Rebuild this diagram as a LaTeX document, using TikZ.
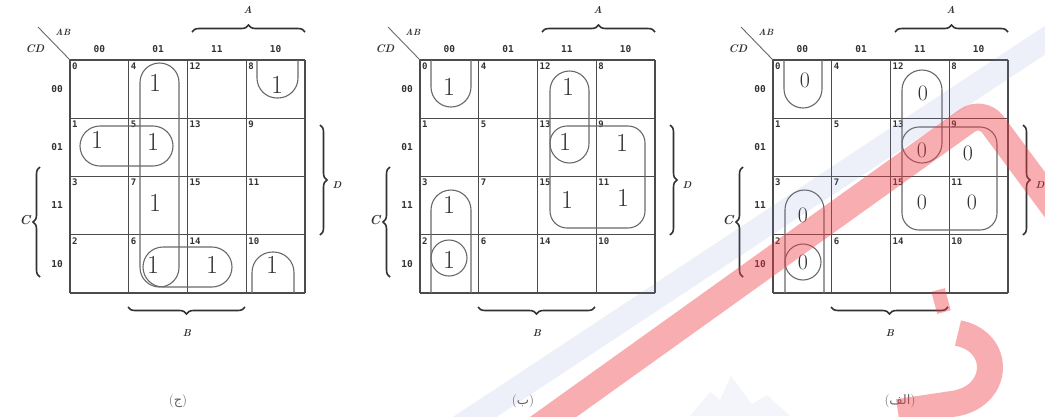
\documentclass[tikz,border=0pt]{standalone}
\usepackage{fontspec}
\newfontfamily\monofont{DejaVu Sans Mono}
\newfontfamily\arabicfont[Script=Arabic]{DejaVu Sans}
\TeXXeTstate=1
\usetikzlibrary{decorations.pathreplacing}
\definecolor{gridc}{RGB}{75,75,75}
\definecolor{loopc}{RGB}{105,105,105}
\definecolor{labc}{RGB}{50,50,50}
\definecolor{valc}{RGB}{50,50,50}
\definecolor{capc}{RGB}{100,100,100}
\definecolor{wmred}{RGB}{240,60,70}
\definecolor{wmblue}{RGB}{120,140,210}
\tikzset{
  gridline/.style={draw=gridc, line width=1.4pt},
  kloop/.style={draw=loopc, line width=1.1pt},
  lbl/.style={font=\monofont\bfseries\fontsize{9.5}{10}\selectfont, text=labc, inner sep=0pt},
  cellno/.style={font=\monofont\bfseries\fontsize{9}{9}\selectfont, text=labc, anchor=north west, inner sep=0pt},
  val/.style={font=\fontsize{26}{26}\selectfont, text=valc, inner sep=0pt},
  valz/.style={font=\fontsize{22}{22}\selectfont, text=valc, inner sep=0pt},
  brc/.style={decorate, decoration={brace, amplitude=7pt}, draw=labc, line width=1.6pt},
  var/.style={font=\bfseries\itshape\fontsize{10}{10}\selectfont, text=labc, inner sep=0pt},
  capt/.style={font=\fontsize{13}{13}\selectfont, text=capc, inner sep=0pt},
}
\newcommand\kmap[2]{%
\begin{scope}[shift={(#2,60)}]
  \foreach \i in {0,...,4}{
    \draw[gridline] (\i*58.75,0) -- (\i*58.75,233);
    \draw[gridline] (0,\i*58.25) -- (235,\i*58.25);
  }
  \foreach \c/\r/\n in {0/0/0,1/0/4,2/0/12,3/0/8,0/1/1,1/1/5,2/1/13,3/1/9,0/2/3,1/2/7,2/2/15,3/2/11,0/3/2,1/3/6,2/3/14,3/3/10}
    \node[cellno] (#1c\n) at (\c*58.75+2,\r*58.25+2.5) {\n};
  \foreach \c/\t [count=\k] in {0/00,1/01,2/11,3/10}{
    \node[lbl] (#1h\k) at (\c*58.75+29.4,-11) {\t};
    \node[lbl] (#1v\k) at (-13,\c*58.25+29) {\t};
  }
  \node[var, font=\bfseries\itshape\fontsize{9}{9}\selectfont] (#1ab) at (-7,-28) {AB};
  \node[var, font=\bfseries\itshape\fontsize{11}{11}\selectfont] (#1cd) at (-35,-11) {CD};
  \coordinate (#1o) at (0,0);
  \coordinate (#1d) at (-32,-33);
  \draw[draw=loopc, line width=0.9pt] (#1d) -- (#1o);
  \coordinate (#1a1) at (122,-28); \coordinate (#1a2) at (235,-28);
  \draw[brc] (#1a1) -- (#1a2);
  \node[var] (#1A) at (178,-50) {A};
  \coordinate (#1b1) at (175,247); \coordinate (#1b2) at (58,247);
  \draw[brc] (#1b1) -- (#1b2);
  \node[var] (#1B) at (117,273) {B};
  \coordinate (#1e1) at (-30,217); \coordinate (#1e2) at (-30,107);
  \draw[brc] (#1e1) -- (#1e2);
  \node[var, font=\bfseries\itshape\fontsize{13}{13}\selectfont] (#1C) at (-45,160) {C};
  \coordinate (#1f1) at (250,65); \coordinate (#1f2) at (250,175);
  \draw[brc] (#1f1) -- (#1f2);
  \node[var] (#1D) at (267,125) {D};
\end{scope}}
\begin{document}
\begin{tikzpicture}[x=1pt,y=-1pt]
\useasboundingbox (0,0) rectangle (1045,416);
\fill[white] (0,0) rectangle (1045,416);
% ---- map (ج)
\kmap{m1}{70}
\begin{scope}[shift={(70,60)}]
  \draw[kloop, rounded corners=19.5pt] (70,3) rectangle (109,227);
  \draw[kloop, rounded corners=20pt] (10,66) rectangle (103,106);
  \draw[kloop, rounded corners=20pt] (73,187) rectangle (162,227);
  \draw[kloop, rounded corners=20pt] (187,0) -- (187,38) -- (228,38) -- (228,0);
  \draw[kloop, rounded corners=20.5pt] (182,233) -- (182,192) -- (224,192) -- (224,233);
  \node[val] (m1g4) at (85,23) {1};
  \node[val] (m1g8) at (207,25) {1};
  \node[val] (m1g1) at (27,80) {1};
  \node[val] (m1g5) at (83,82) {1};
  \node[val] (m1g7) at (85,143) {1};
  \node[val] (m1g6) at (83,205) {1};
  \node[val] (m1g14) at (142,205) {1};
  \node[val] (m1g10) at (202,205) {1};
\end{scope}
\node[capt] (cap1) at (178,401) {({\arabicfont\beginR ج\endR})};
% ---- map (ب)
\kmap{m2}{420}
\begin{scope}[shift={(420,60)}]
  \draw[kloop, rounded corners=20pt] (11,0) -- (11,47) -- (51,47) -- (51,0);
  \draw[kloop, rounded corners=20pt] (11,233) -- (11,130) -- (51,130) -- (51,233);
  \draw[kloop] (29,198) circle[radius=18pt];
  \draw[kloop, rounded corners=19.5pt] (130,11) rectangle (169,103);
  \draw[kloop, rounded corners=17pt] (130,66) rectangle (225,168);
  \node[val] (m2g0) at (29,27) {1};
  \node[val] (m2g3) at (29,145) {1};
  \node[val] (m2g2) at (29,200) {1};
  \node[val] (m2g12) at (148,27) {1};
  \node[val] (m2g13) at (145,82) {1};
  \node[val] (m2g9) at (202,83) {1};
  \node[val] (m2g15) at (147,140) {1};
  \node[val] (m2g11) at (203,138) {1};
\end{scope}
\node[capt] (cap2) at (523,401) {({\arabicfont\beginR ب\endR})};
% ---- map (الف)
\kmap{m3}{773}
\begin{scope}[shift={(773,60)}]
  \draw[kloop, rounded corners=19pt] (11,0) -- (11,48) -- (49,48) -- (49,0);
  \draw[kloop, rounded corners=19.5pt] (12,233) -- (12,130) -- (51,130) -- (51,233);
  \draw[kloop] (30,202) circle[radius=18pt];
  \draw[kloop, rounded corners=20pt] (129,10) rectangle (169,103);
  \draw[kloop, rounded corners=17pt] (129,67) rectangle (224,170);
  \node[valz] (m3g0) at (32,20) {0};
  \node[valz] (m3g12) at (150,33) {0};
  \node[valz] (m3g13) at (149,90) {0};
  \node[valz] (m3g9) at (195,93) {0};
  \node[valz] (m3g15) at (149,142) {0};
  \node[valz] (m3g11) at (199,142) {0};
  \node[valz] (m3g3) at (30,155) {0};
  \node[valz] (m3g2) at (30,202) {0};
\end{scope}
\node[capt] (cap3) at (900,401) {({\arabicfont\beginR الف\endR})};
% ---- watermark
\begin{scope}
  \clip (0,0) rectangle (1045,416);
  \draw[wmblue, line width=24pt, opacity=0.13] (455,430) -- (1065,27);
  \fill[wmblue, opacity=0.08] (690,416) -- (710,392) -- (720,400) -- (731,376) -- (752,404) -- (767,395) -- (790,416) -- cycle;
  \draw[wmred, line width=27pt, opacity=0.42, rounded corners=18pt] (535,430) -- (982,110) -- (1060,215);
  \draw[wmred, line width=26pt, opacity=0.42] (958,333) .. controls (1003,342) and (1000,398) .. (952,404) -- (898,412);
  \draw[wmred, line width=14pt, opacity=0.42] (938,290) -- (944,312);
\end{scope}
\end{tikzpicture}
\end{document}
